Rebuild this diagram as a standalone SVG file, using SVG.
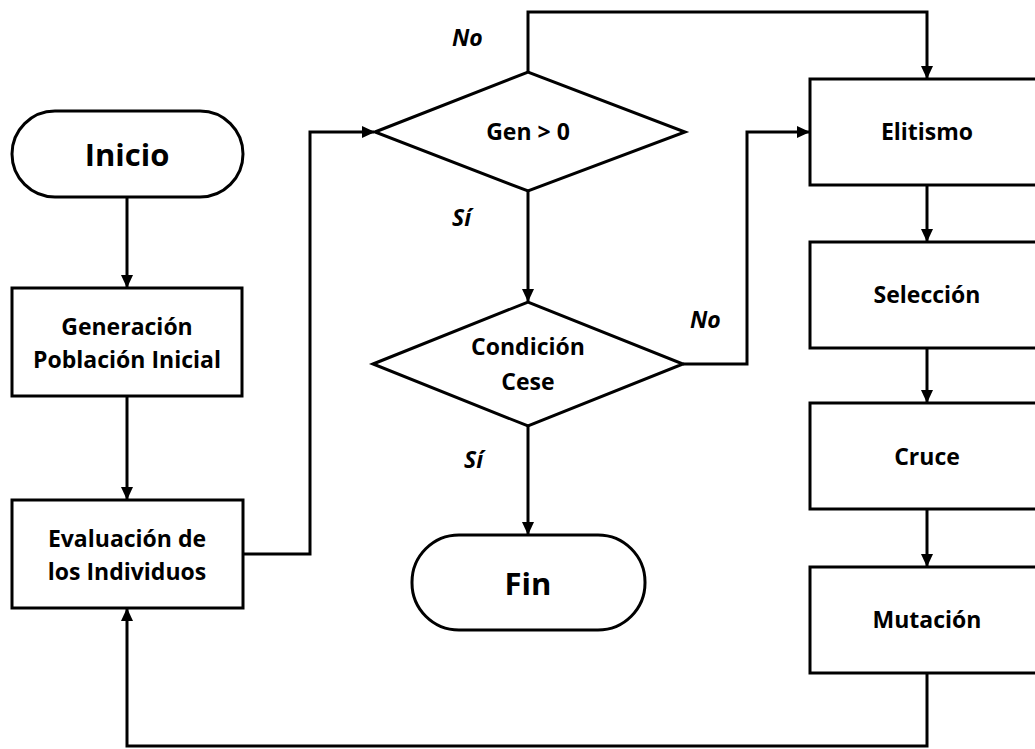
<svg xmlns="http://www.w3.org/2000/svg" width="1035" height="749" viewBox="0 0 1035 749">
<style>
.shape{fill:#fff;stroke:#000;stroke-width:3}
.line{fill:none;stroke:#000;stroke-width:3}
.t{font-family:"Open Sans","Liberation Sans",sans-serif;font-weight:bold;font-size:23px;text-anchor:middle;fill:#000}
.big{font-size:31px}
.lbl{font-family:"Open Sans","Liberation Sans",sans-serif;font-weight:bold;font-style:italic;font-size:23px;fill:#000}
</style>
<defs>
<marker id="arr" markerWidth="14" markerHeight="14" refX="12" refY="6" orient="auto" markerUnits="userSpaceOnUse">
<path d="M0,0 L13,6 L0,12 z" fill="#000"/>
</marker>
</defs>
<rect width="1035" height="749" fill="#fff"/>
<g id="connectors">
<line class="line" x1="127" y1="197" x2="127" y2="287" marker-end="url(#arr)"/>
<line class="line" x1="127" y1="396" x2="127" y2="499" marker-end="url(#arr)"/>
<polyline class="line" points="243,554 310,554 310,132 374,132" marker-end="url(#arr)"/>
<polyline class="line" points="528,72 528,12 927,12 927,78" marker-end="url(#arr)"/>
<line class="line" x1="528" y1="191" x2="528" y2="301" marker-end="url(#arr)"/>
<polyline class="line" points="683,364 747,364 747,132 809,132" marker-end="url(#arr)"/>
<line class="line" x1="528" y1="426" x2="528" y2="534" marker-end="url(#arr)"/>
<line class="line" x1="927" y1="185" x2="927" y2="241" marker-end="url(#arr)"/>
<line class="line" x1="927" y1="348" x2="927" y2="402" marker-end="url(#arr)"/>
<line class="line" x1="927" y1="509" x2="927" y2="566" marker-end="url(#arr)"/>
<polyline class="line" points="927,673 927,746 127,746 127,609" marker-end="url(#arr)"/>
<text class="lbl" x="452" y="46">No</text>
<text class="lbl" x="452" y="226">Sí</text>
<text class="lbl" x="690" y="328">No</text>
<text class="lbl" x="464" y="468">Sí</text>
</g>
<g id="inicio">
<rect class="shape" x="12" y="111" width="231" height="86" rx="43" ry="43"/>
<text class="t big" x="127" y="166">Inicio</text>
</g>
<g id="generacion">
<rect class="shape" x="12" y="288" width="230" height="108"/>
<text class="t" x="127" y="335">Generación</text>
<text class="t" x="127" y="368">Población Inicial</text>
</g>
<g id="evaluacion">
<rect class="shape" x="12" y="500" width="231" height="108"/>
<text class="t" x="127" y="547">Evaluación de</text>
<text class="t" x="127" y="580">los Individuos</text>
</g>
<g id="gen">
<polygon class="shape" points="375,132 528,72 685,132 528,191"/>
<text class="t" x="528" y="140">Gen &gt; 0</text>
</g>
<g id="condicion">
<polygon class="shape" points="373,364 528,302 683,364 528,426"/>
<text class="t" x="528" y="355">Condición</text>
<text class="t" x="528" y="390">Cese</text>
</g>
<g id="fin">
<rect class="shape" x="412" y="535" width="233" height="95" rx="47" ry="47"/>
<text class="t big" x="528" y="595">Fin</text>
</g>
<g id="elitismo">
<rect class="shape" x="810" y="79" width="234" height="106"/>
<text class="t" x="927" y="140">Elitismo</text>
</g>
<g id="seleccion">
<rect class="shape" x="810" y="242" width="234" height="106"/>
<text class="t" x="927" y="303">Selección</text>
</g>
<g id="cruce">
<rect class="shape" x="810" y="403" width="234" height="106"/>
<text class="t" x="927" y="465">Cruce</text>
</g>
<g id="mutacion">
<rect class="shape" x="810" y="567" width="234" height="106"/>
<text class="t" x="927" y="628">Mutación</text>
</g>
</svg>
